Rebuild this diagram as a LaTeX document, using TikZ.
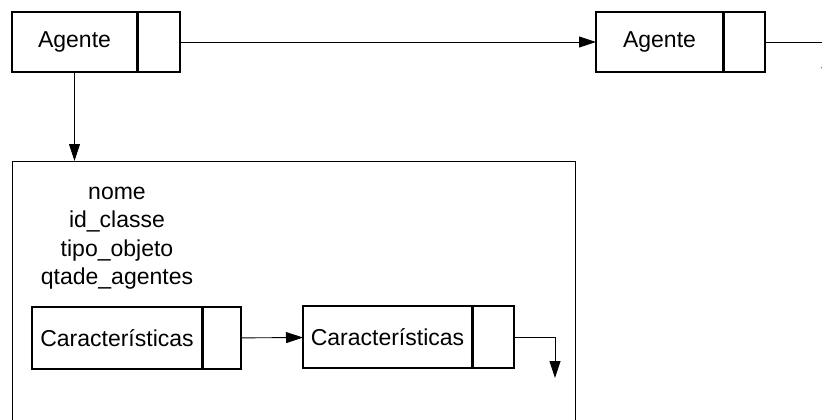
\documentclass[tikz,border=0pt]{standalone}
\usepackage{fontspec}
\setmainfont{Liberation Sans}
\usetikzlibrary{arrows.meta,positioning}

\begin{document}
\begin{tikzpicture}[
    x=1pt, y=-1pt,
    font=\fontsize{23}{28.5}\selectfont,
    cell/.style={rectangle, draw, line width=2.4pt, minimum height=60pt, inner sep=0pt, outer sep=0pt},
    ptr/.style={cell, minimum width=42pt},
    frame/.style={rectangle, draw, line width=0.9pt, anchor=north west, minimum width=563pt, minimum height=300pt},
    arrow/.style={-{Triangle[length=17pt,width=11pt]}, line width=0.9pt}
]
\useasboundingbox (0,0) rectangle (822,420);
\clip (0,0) rectangle (822,420);

% list of agents
\node[cell, minimum width=125pt] (agente1) at (74.5,42) {Agente};
\node[ptr, right=0.8pt of agente1] (agente1p) {};
\node[cell, minimum width=127pt] (agente2) at (659.5,42) {Agente};
\node[ptr, minimum width=41pt, right=0.8pt of agente2] (agente2p) {};
\coordinate (prox) at (827,84);

% agent record
\node[frame] (classe) at (12,161) {};
\node[align=center] (campos) at (117,238) {nome\\id\_classe\\tipo\_objeto\\qtade\_agentes};

% list of features
\node[cell, minimum width=170pt, minimum height=62pt] (carac1) at (117,338) {Características};
\node[ptr, minimum width=38pt, minimum height=62pt, right=0.8pt of carac1] (carac1p) {};
\node[cell, minimum width=169pt, minimum height=62pt] (carac2) at (387.5,337) {Características};
\node[ptr, minimum width=41pt, minimum height=62pt, right=0.8pt of carac2] (carac2p) {};
\coordinate (fim) at (555,378);

\draw[arrow] (agente1p) -- (agente2);
\draw[arrow] (agente2p) -| (prox);
\draw[arrow] (agente1) -- (agente1 |- classe.north);
\draw[arrow] (carac1p) -- (carac2);
\draw[arrow] (carac2p) -| (fim);

\end{tikzpicture}
\end{document}
